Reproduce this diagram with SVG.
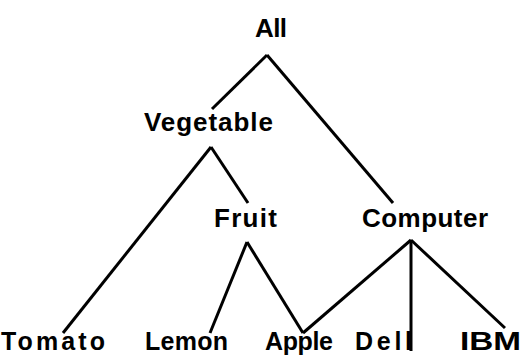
<svg xmlns="http://www.w3.org/2000/svg" width="524" height="356" viewBox="0 0 524 356">
<style>
.lbl{font-family:"Liberation Sans",Arial,sans-serif;font-weight:bold;font-size:26px;fill:#000}
.low{font-size:25px}
.edge{stroke:#000;stroke-width:3;fill:none;stroke-linecap:butt}
</style>
<rect width="524" height="356" fill="#fff"/>
<g id="connectors">
<line class="edge" x1="267" y1="55" x2="212" y2="109"/>
<line class="edge" x1="267" y1="55" x2="393" y2="203"/>
<line class="edge" x1="211" y1="147" x2="63" y2="333"/>
<line class="edge" x1="211" y1="147" x2="248" y2="203"/>
<line class="edge" x1="247" y1="242" x2="210" y2="333"/>
<line class="edge" x1="247" y1="242" x2="303" y2="333"/>
<line class="edge" x1="411" y1="240" x2="303" y2="333"/>
<line class="edge" x1="411" y1="240" x2="411" y2="351"/>
<line class="edge" x1="411" y1="240" x2="505" y2="328"/>
</g>
<g id="node-all"><text class="lbl" x="255" y="37" textLength="32" lengthAdjust="spacing">All</text></g>
<g id="node-vegetable"><text class="lbl" x="144" y="131" textLength="129" lengthAdjust="spacing">Vegetable</text></g>
<g id="node-fruit"><text class="lbl" x="214" y="227" textLength="63" lengthAdjust="spacing">Fruit</text></g>
<g id="node-computer"><text class="lbl" x="362" y="227" textLength="126" lengthAdjust="spacing">Computer</text></g>
<g id="node-tomato"><text class="lbl low" x="1" y="350" textLength="104" lengthAdjust="spacing">Tomato</text></g>
<g id="node-lemon"><text class="lbl low" x="145" y="350" textLength="83" lengthAdjust="spacing">Lemon</text></g>
<g id="node-apple"><text class="lbl low" x="265" y="350" textLength="68" lengthAdjust="spacing">Apple</text></g>
<g id="node-dell"><text class="lbl low" x="355" y="350" textLength="57" lengthAdjust="spacing">Dell</text></g>
<g id="node-ibm"><text class="lbl low" x="460" y="350" textLength="61" lengthAdjust="spacingAndGlyphs">IBM</text></g>
</svg>
